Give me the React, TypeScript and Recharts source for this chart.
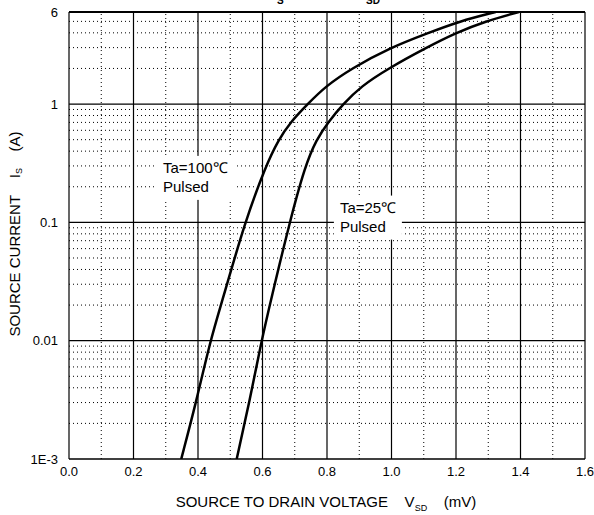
import React from 'react';
import { LineChart, Line, XAxis, YAxis, ReferenceLine, ReferenceDot, Customized } from 'recharts';

// I_S vs V_SD
const vsd100 = [0.348, 0.394, 0.438, 0.476, 0.545, 0.61, 0.65, 0.686, 0.74, 0.795, 0.876, 0.996, 1.115, 1.21, 1.323];
const is100 = [0.001, 0.003, 0.01, 0.022, 0.1, 0.3, 0.5, 0.7, 1, 1.41, 2, 3, 4, 5, 6];

const vsd25 = [0.52, 0.559, 0.597, 0.626, 0.684, 0.732, 0.767, 0.803, 0.85, 0.905, 0.99, 1.108, 1.2, 1.29, 1.395];
const is25 = [0.001, 0.003, 0.01, 0.022, 0.1, 0.3, 0.5, 0.7, 1, 1.41, 2, 3, 4, 5, 6];

const xTicks = [0, 0.2, 0.4, 0.6, 0.8, 1.0, 1.2, 1.4, 1.6];
const xMinor = [0.1, 0.3, 0.5, 0.7, 0.9, 1.1, 1.3, 1.5];
const yTicks = [0.001, 0.01, 0.1, 1, 6];
const yLabels = ['1E-3', '0.01', '0.1', '1', '6'];
const yMajor = [0.01, 0.1, 1];
const yMinor = [
  0.002, 0.003, 0.004, 0.005, 0.006, 0.007, 0.008, 0.009,
  0.02, 0.03, 0.04, 0.05, 0.06, 0.07, 0.08, 0.09,
  0.2, 0.3, 0.4, 0.5, 0.6, 0.7, 0.8, 0.9,
  2, 3, 4, 5,
];

const hot = vsd100.map((v, i) => ({ v, i: is100[i] }));
const cold = vsd25.map((v, i) => ({ v, i: is25[i] }));

const FONT = '"Liberation Sans", Arial, sans-serif';
const SP = '\u00a0\u00a0\u00a0\u00a0';

const noteBox = (lines: string[], w: number) => (props: any) => {
  const { cx, cy } = props;
  return (
    <g>
      <rect x={cx - 6} y={cy - 17} width={w} height={44} fill="#fff" />
      <text x={cx} y={cy} fontSize={15} fontFamily={FONT} fill="#000">{lines[0]}</text>
      <text x={cx} y={cy + 19} fontSize={15} fontFamily={FONT} fill="#000">{lines[1]}</text>
    </g>
  );
};

// title sits mostly above the picture, only the subscripts show
const Title = () => (
  <g fontFamily={FONT} fontWeight="bold" fill="#000">
    <text x={270} y={-4} fontSize={14}>I</text>
    <text x={277} y={4} fontSize={10}>S</text>
    <text x={355} y={-4} fontSize={14}>V</text>
    <text x={366} y={4} fontSize={10}>SD</text>
  </g>
);

export default function App() {
  return (
    <div style={{ position: 'absolute', left: 0, top: 0, background: '#fff' }}>
      <LineChart
        width={594}
        height={515}
        margin={{ top: 12, right: 9, left: 0, bottom: 0 }}
      >
        <XAxis
          type="number"
          dataKey="v"
          domain={[0, 1.6]}
          ticks={xTicks}
          tickFormatter={(t: number) => t.toFixed(1)}
          tickLine={false}
          axisLine={false}
          height={56}
          interval={0}
          tick={{ fill: '#000', fontSize: 13, fontFamily: FONT }}
          label={{
            content: () => (
              <text x={326} y={507} textAnchor="middle" fontSize={15} fontFamily={FONT} fill="#000">
                SOURCE TO DRAIN VOLTAGE{SP}V
                <tspan fontSize={9} dy={4}>SD</tspan>
                <tspan dy={-4}>{SP}(mV)</tspan>
              </text>
            ),
          }}
        />
        <YAxis
          type="number"
          scale="log"
          domain={[0.001, 6]}
          allowDataOverflow
          ticks={yTicks}
          tickFormatter={(t: number) => yLabels[yTicks.indexOf(t)]}
          tickLine={false}
          axisLine={false}
          tickMargin={5}
          width={69}
          interval={0}
          tick={{ fill: '#000', fontSize: 13, fontFamily: FONT }}
          label={{
            content: () => (
              <text
                x={16}
                y={234}
                transform="rotate(-90 16 234)"
                textAnchor="middle"
                dominantBaseline="middle"
                fontSize={15}
                fontFamily={FONT}
                fill="#000"
              >
                SOURCE CURRENT{SP}I
                <tspan fontSize={9} dy={4}>S</tspan>
                <tspan dy={-4}>{SP}(A)</tspan>
              </text>
            ),
          }}
        />
        {xMinor.map((x) => (
          <ReferenceLine key={'xm' + x} x={x} stroke="#000" strokeDasharray="1 3" strokeWidth={1} />
        ))}
        {yMinor.map((y) => (
          <ReferenceLine key={'ym' + y} y={y} stroke="#000" strokeDasharray="1 3" strokeWidth={1} />
        ))}
        {xTicks.map((x) => (
          <ReferenceLine key={'xM' + x} x={x} stroke="#000" strokeWidth={1.2} />
        ))}
        {yMajor.map((y) => (
          <ReferenceLine key={'yM' + y} y={y} stroke="#000" strokeWidth={1.2} />
        ))}
        <ReferenceLine y={0.001} stroke="#000" strokeWidth={1.5} />
        <ReferenceLine y={6} stroke="#000" strokeWidth={1.8} />
        <ReferenceDot x={0.2915} y={0.262} r={0} shape={noteBox(['Ta=100\u2103', 'Pulsed'], 80)} />
        <ReferenceDot x={0.84} y={0.121} r={0} shape={noteBox(['Ta=25\u2103', 'Pulsed'], 68)} />
        <Line
          data={hot}
          dataKey="i"
          type="basis"
          stroke="#000"
          strokeWidth={2.5}
          dot={false}
          isAnimationActive={false}
        />
        <Line
          data={cold}
          dataKey="i"
          type="basis"
          stroke="#000"
          strokeWidth={2.5}
          dot={false}
          isAnimationActive={false}
        />
        <Customized component={Title} />
      </LineChart>
    </div>
  );
}
